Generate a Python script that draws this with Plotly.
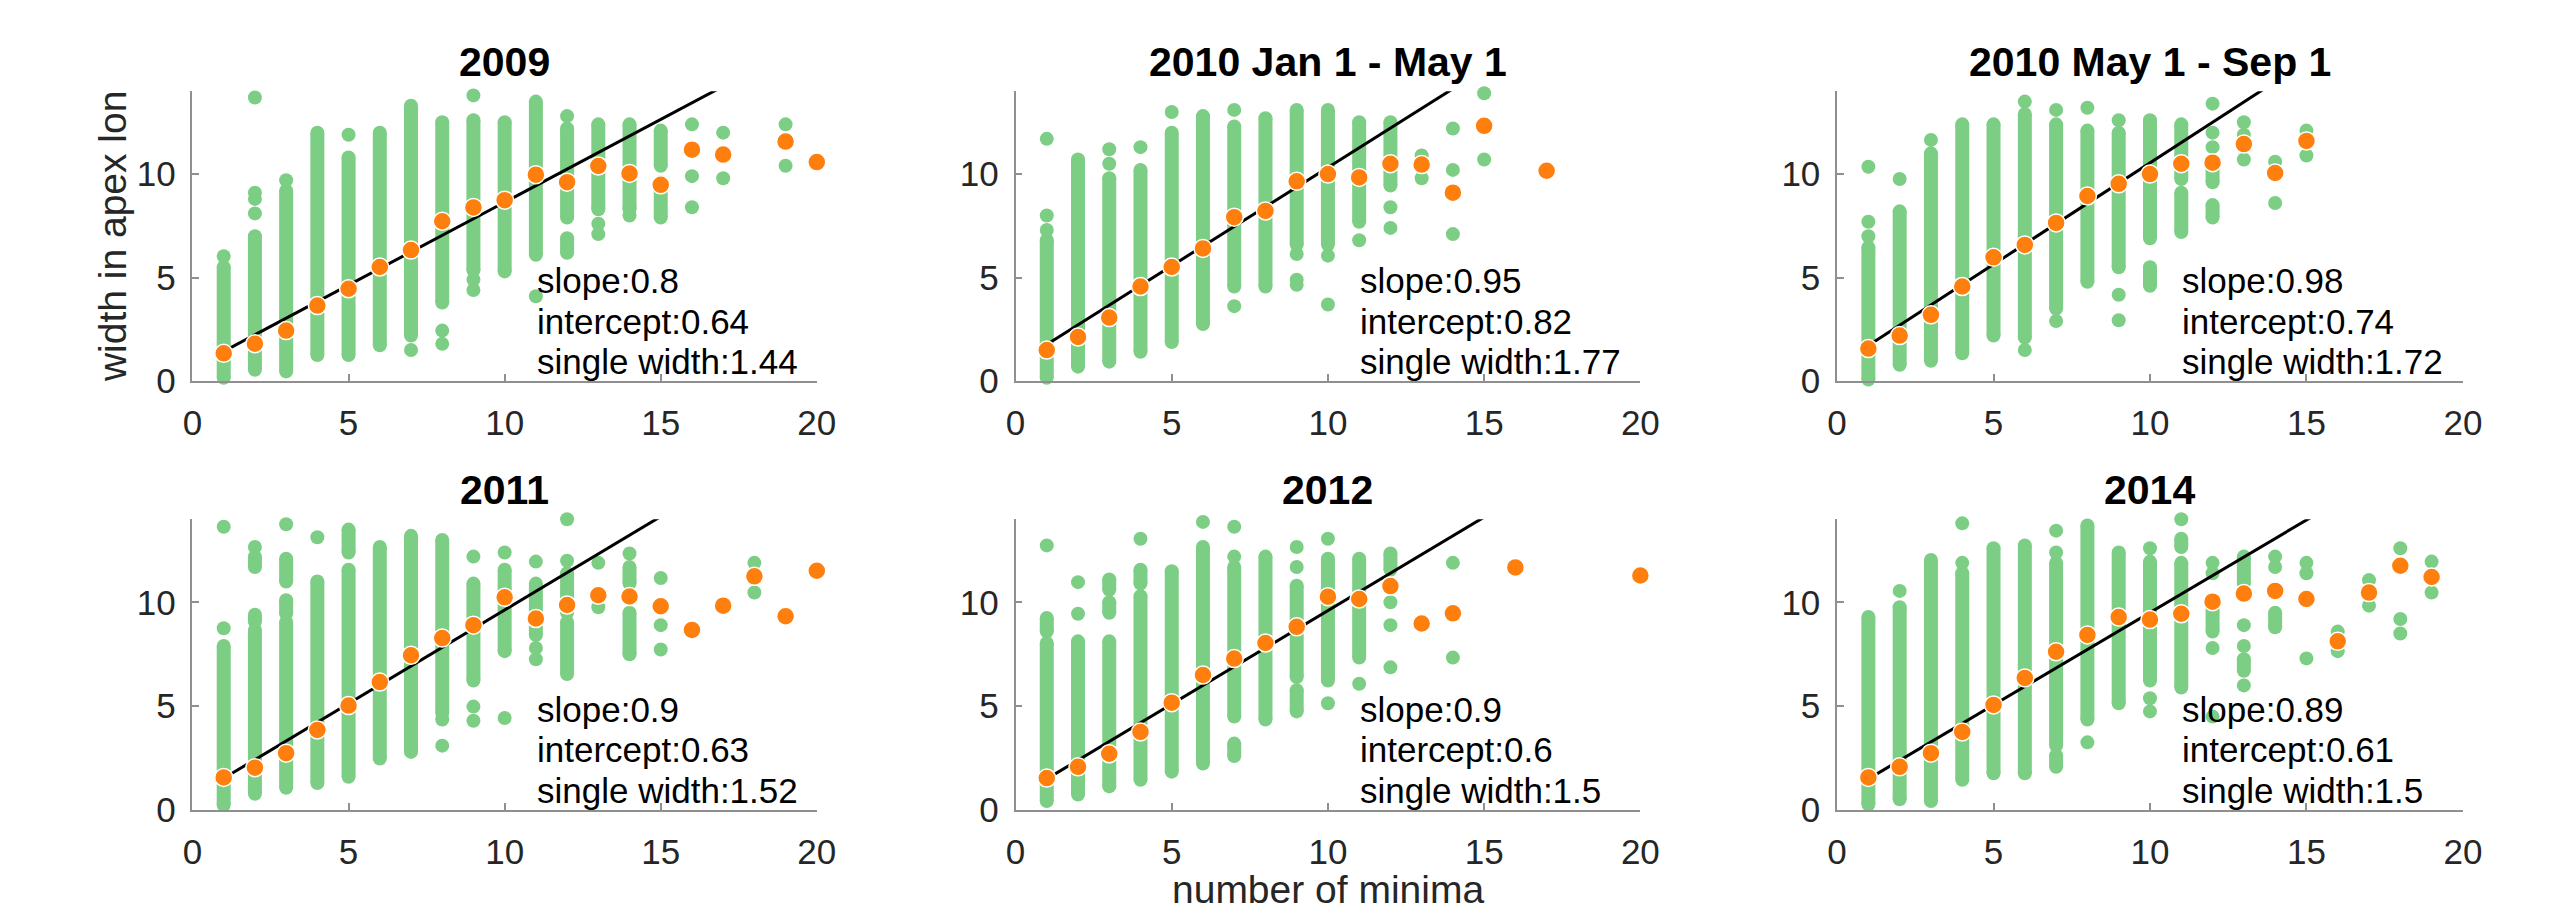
import plotly.graph_objects as go

W, H = 2551, 919

titles = ["2009", "2010 Jan 1 - May 1", "2010 May 1 - Sep 1", "2011", "2012", "2014"]
slopes = [0.8, 0.95, 0.98, 0.9, 0.9, 0.89]
intercepts = [0.64, 0.82, 0.74, 0.63, 0.6, 0.61]
single_widths = [1.44, 1.77, 1.72, 1.52, 1.5, 1.5]
x_ticks = [0, 5, 10, 15, 20]
y_ticks = [0, 5, 10]
x_title = "number of minima"
y_title = "width in apex lon"

# ---------------- Panel 1: 2009 ----------------
p1_mean_x = [1, 2, 3, 4, 5, 6, 7, 8, 9, 10, 11, 12, 13, 14, 15, 16, 17, 19, 20]
p1_mean_y = [1.34, 1.81, 2.44, 3.65, 4.46, 5.51, 6.33, 7.72, 8.39, 8.74, 9.97, 9.61, 10.39, 10.03, 9.48, 11.18, 10.94, 11.57, 10.58]
p1_rng_x = [1, 2, 3, 4, 5, 6, 7, 8, 9, 10, 11, 12, 12, 13, 14, 15, 15]
p1_rng_lo = [0.16, 0.55, 0.47, 1.26, 1.26, 1.73, 2.2, 3.8, 5.35, 5.3, 6.1, 7.9, 6.2, 8.3, 8.3, 10.4, 7.9]
p1_rng_hi = [5.5, 7.0, 9.2, 12.0, 10.8, 12.0, 13.3, 12.5, 12.6, 12.5, 13.5, 12.2, 6.9, 12.4, 12.4, 12.1, 9.6]
p1_pt_x = [1, 2, 2, 2, 2, 3, 5, 7, 8, 8, 9, 9, 9, 11, 12, 13, 13, 14, 16, 16, 16, 17, 17, 19, 19]
p1_pt_y = [6.03, 13.7, 9.1, 8.8, 8.1, 9.7, 11.9, 1.5, 2.44, 1.8, 13.8, 4.9, 4.4, 4.1, 12.8, 7.6, 7.1, 8.0, 12.4, 9.9, 8.4, 12.0, 9.8, 12.4, 10.4]

# ---------------- Panel 2: 2010 Jan 1 - May 1 ----------------
p2_mean_x = [1, 2, 3, 4, 5, 6, 7, 8, 9, 10, 11, 12, 13, 14, 15, 17]
p2_mean_y = [1.50, 2.13, 3.07, 4.57, 5.51, 6.41, 7.92, 8.22, 9.65, 10.0, 9.84, 10.5, 10.46, 9.1, 12.33, 10.16]
p2_rng_x = [1, 2, 3, 4, 5, 6, 7, 8, 9, 10, 11, 12]
p2_rng_lo = [0.16, 0.7, 0.94, 1.42, 1.89, 2.76, 4.57, 4.57, 6.6, 6.6, 7.7, 9.45]
p2_rng_hi = [6.8, 10.7, 9.8, 10.2, 12.0, 12.8, 12.3, 12.7, 13.1, 13.1, 12.5, 12.5]
p2_pt_x = [1, 1, 1, 3, 3, 4, 5, 7, 7, 9, 9, 9, 10, 10, 11, 12, 12, 13, 13, 14, 14, 14, 15, 15]
p2_pt_y = [11.7, 8.0, 7.3, 11.2, 10.5, 11.3, 13.0, 13.1, 3.62, 6.14, 4.9, 4.65, 6.06, 3.7, 6.8, 8.4, 7.4, 10.9, 9.8, 12.2, 10.2, 7.1, 13.9, 10.7]

# ---------------- Panel 3: 2010 May 1 - Sep 1 ----------------
p3_mean_x = [1, 2, 3, 4, 5, 6, 7, 8, 9, 10, 11, 12, 13, 14, 15]
p3_mean_y = [1.57, 2.2, 3.2, 4.57, 5.98, 6.58, 7.64, 8.94, 9.53, 10.0, 10.5, 10.55, 11.45, 10.05, 11.6]
p3_rng_x = [1, 2, 3, 4, 5, 6, 7, 8, 9, 10, 10, 11, 11, 12, 12]
p3_rng_lo = [0.08, 0.79, 0.98, 1.34, 2.2, 2.1, 3.5, 4.8, 5.5, 6.9, 4.6, 9.76, 7.2, 9.6, 7.9]
p3_rng_hi = [6.46, 8.2, 11.0, 12.4, 12.4, 12.9, 12.4, 12.1, 12.0, 12.6, 5.5, 12.4, 9.1, 10.6, 8.5]
p3_pt_x = [1, 1, 1, 2, 3, 6, 6, 7, 7, 8, 9, 9, 9, 12, 12, 12, 13, 13, 13, 14, 14, 15, 15]
p3_pt_y = [10.35, 7.7, 7.0, 9.76, 11.65, 13.5, 1.5, 13.1, 2.9, 13.2, 12.6, 4.17, 2.94, 13.4, 12.0, 11.3, 12.5, 11.9, 10.7, 10.6, 8.6, 12.1, 10.9]

# ---------------- Panel 4: 2011 ----------------
p4_mean_x = [1, 2, 3, 4, 5, 6, 7, 8, 9, 10, 11, 12, 13, 14, 15, 16, 17, 18, 19, 20]
p4_mean_y = [1.57, 2.04, 2.74, 3.86, 5.03, 6.16, 7.45, 8.28, 8.9, 10.24, 9.22, 9.87, 10.34, 10.28, 9.81, 8.67, 9.84, 11.25, 9.33, 11.52]
p4_rng_x = [1, 2, 2, 2, 3, 3, 3, 4, 5, 5, 6, 7, 8, 9, 10, 10, 11, 12, 12, 14, 14]
p4_rng_lo = [0.24, 0.78, 11.7, 9.06, 1.07, 11.0, 9.45, 1.3, 1.6, 12.4, 2.48, 2.8, 4.67, 6.24, 7.65, 10.6, 8.43, 9.5, 6.55, 10.9, 7.5]
p4_rng_hi = [7.9, 8.67, 12.2, 9.4, 9.06, 12.1, 10.1, 11.0, 11.57, 13.5, 12.66, 13.2, 13.0, 10.9, 10.0, 11.57, 10.9, 11.4, 9.06, 11.7, 9.5]
p4_pt_x = [1, 1, 2, 3, 4, 8, 8, 9, 9, 9, 10, 10, 11, 11, 11, 12, 12, 13, 13, 14, 15, 15, 15, 18, 18]
p4_pt_y = [13.64, 8.75, 12.66, 13.76, 13.13, 4.36, 3.1, 12.2, 4.98, 4.3, 12.4, 4.43, 11.96, 7.8, 7.26, 14.0, 12.0, 11.9, 9.76, 12.35, 11.17, 8.9, 7.73, 11.9, 10.47]

# ---------------- Panel 5: 2012 ----------------
p5_mean_x = [1, 2, 3, 4, 5, 6, 7, 8, 9, 10, 11, 12, 13, 14, 16, 20]
p5_mean_y = [1.54, 2.08, 2.71, 3.76, 5.17, 6.5, 7.29, 8.04, 8.82, 10.27, 10.16, 10.78, 8.98, 9.47, 11.68, 11.29]
p5_rng_x = [1, 1, 2, 3, 3, 3, 4, 4, 5, 6, 7, 7, 8, 9, 9, 10, 11, 12]
p5_rng_lo = [0.44, 8.6, 0.75, 1.14, 9.5, 10.6, 1.46, 10.9, 1.85, 2.24, 4.5, 2.6, 4.36, 6.4, 4.75, 6.24, 7.34, 11.57]
p5_rng_hi = [8.04, 9.25, 8.12, 8.12, 10.0, 11.1, 10.3, 11.57, 11.5, 12.66, 11.7, 3.2, 12.2, 10.8, 5.77, 12.1, 12.1, 12.35]
p5_pt_x = [1, 2, 2, 4, 6, 7, 7, 9, 9, 10, 10, 11, 12, 12, 12, 14, 14]
p5_pt_y = [12.74, 10.97, 9.45, 13.06, 13.87, 13.64, 12.2, 12.66, 11.7, 13.06, 5.14, 6.08, 10.0, 8.9, 6.87, 11.9, 7.34]

# ---------------- Panel 6: 2014 ----------------
p6_mean_x = [1, 2, 3, 4, 5, 6, 7, 8, 9, 10, 11, 12, 13, 14, 15, 16, 17, 18, 19]
p6_mean_y = [1.57, 2.08, 2.74, 3.76, 5.06, 6.36, 7.62, 8.43, 9.29, 9.17, 9.45, 10.03, 10.42, 10.55, 10.16, 8.12, 10.47, 11.76, 11.22]
p6_rng_x = [1, 2, 3, 4, 5, 6, 7, 7, 8, 9, 10, 11, 11, 12, 13, 13, 14]
p6_rng_lo = [0.28, 0.52, 0.44, 1.46, 1.77, 1.77, 3.1, 2.08, 4.36, 5.14, 6.24, 5.9, 12.66, 8.59, 10.9, 6.7, 8.8]
p6_rng_hi = [9.29, 9.76, 12.04, 11.4, 12.6, 12.74, 11.9, 2.63, 13.7, 12.4, 11.96, 11.9, 13.06, 10.0, 12.2, 7.26, 9.5]
p6_pt_x = [2, 4, 4, 7, 7, 8, 10, 10, 10, 11, 12, 12, 12, 12, 13, 13, 13, 14, 14, 15, 15, 15, 16, 16, 17, 17, 18, 18, 18, 19, 19]
p6_pt_y = [10.55, 13.8, 11.9, 13.45, 12.4, 3.26, 12.6, 5.38, 4.75, 14.0, 11.9, 11.4, 7.8, 4.5, 8.9, 7.9, 6.0, 12.2, 11.7, 11.9, 11.4, 7.3, 8.59, 7.65, 11.07, 9.84, 12.6, 9.2, 8.5, 11.96, 10.47]

panels = [
    (p1_mean_x, p1_mean_y, p1_rng_x, p1_rng_lo, p1_rng_hi, p1_pt_x, p1_pt_y),
    (p2_mean_x, p2_mean_y, p2_rng_x, p2_rng_lo, p2_rng_hi, p2_pt_x, p2_pt_y),
    (p3_mean_x, p3_mean_y, p3_rng_x, p3_rng_lo, p3_rng_hi, p3_pt_x, p3_pt_y),
    (p4_mean_x, p4_mean_y, p4_rng_x, p4_rng_lo, p4_rng_hi, p4_pt_x, p4_pt_y),
    (p5_mean_x, p5_mean_y, p5_rng_x, p5_rng_lo, p5_rng_hi, p5_pt_x, p5_pt_y),
    (p6_mean_x, p6_mean_y, p6_rng_x, p6_rng_lo, p6_rng_hi, p6_pt_x, p6_pt_y),
]

# ---------------- styling / layout ----------------
GREEN = "#7dce85"
ORANGE = "#ff7f0e"
AXC = "#8f8f8f"
TXT = "#262626"
FONT = "Liberation Sans, Arial, Helvetica, sans-serif"
GREEN_D = 14
TICK_FS = 35
STAT_FS = 35
TITLE_FS = 41
LABEL_FS = 39

col_px = [(176.5, 808), (1009, 1641), (1840, 2473)]
row_px = [(85, 381), (522, 819)]
stat_y = [4.86, 2.9, 0.94]

fig = go.Figure()
annotations = []
layout_axes = {}

for i, (mx, my, rx, rlo, rhi, px, py) in enumerate(panels):
    r, c = divmod(i, 3)
    n = i + 1
    xa = "x" if n == 1 else f"x{n}"
    ya = "y" if n == 1 else f"y{n}"
    x0, x1 = col_px[c]
    y0, y1 = row_px[r]

    # dense columns of overlapping dots
    lx, ly = [], []
    for xv, lo, hi in zip(rx, rlo, rhi):
        lx += [xv, xv, None]
        ly += [lo, hi, None]
    fig.add_trace(go.Scatter(x=lx, y=ly, mode="lines+markers", xaxis=xa, yaxis=ya,
                             line=dict(color=GREEN, width=GREEN_D),
                             marker=dict(color=GREEN, size=GREEN_D),
                             cliponaxis=False, showlegend=False, hoverinfo="skip"))
    # isolated dots
    fig.add_trace(go.Scatter(x=px, y=py, mode="markers", xaxis=xa, yaxis=ya,
                             marker=dict(color=GREEN, size=GREEN_D),
                             cliponaxis=False, showlegend=False))
    # fit line
    fx = [1, 20]
    fy = [slopes[i] * v + intercepts[i] for v in fx]
    fig.add_trace(go.Scatter(x=fx, y=fy, mode="lines", xaxis=xa, yaxis=ya,
                             line=dict(color="black", width=3),
                             cliponaxis=True, showlegend=False))
    # means
    fig.add_trace(go.Scatter(x=mx, y=my, mode="markers", xaxis=xa, yaxis=ya,
                             marker=dict(color=ORANGE, size=18, line=dict(color="white", width=1.5)),
                             cliponaxis=False, showlegend=False))

    axcommon = dict(showgrid=False, zeroline=False, showline=True, linecolor=AXC, linewidth=1.5,
                    ticks="inside", ticklen=7, tickwidth=1.5, tickcolor=AXC,
                    tickfont=dict(family=FONT, size=TICK_FS, color=TXT), mirror=False)
    layout_axes["xaxis" if n == 1 else f"xaxis{n}"] = dict(
        domain=[x0 / W, x1 / W], range=[0, 20], tickvals=x_ticks, anchor=ya,
        ticklabelstandoff=10, **axcommon)
    layout_axes["yaxis" if n == 1 else f"yaxis{n}"] = dict(
        domain=[1 - y1 / H, 1 - y0 / H], range=[0, 14], tickvals=y_ticks, anchor=xa,
        ticklabelstandoff=8, **axcommon)

    # title
    annotations.append(dict(x=(x0 + x1) / 2 / W, y=1 - (y0 - 30) / H, xref="paper", yref="paper",
                            text=f"<b>{titles[i]}</b>", showarrow=False, xanchor="center", yanchor="middle",
                            font=dict(family=FONT, size=TITLE_FS, color="black")))
    # stats text (three lines)
    lines = [f"slope:{slopes[i]}", f"intercept:{intercepts[i]}", f"single width:{single_widths[i]}"]
    for t, yy in zip(lines, stat_y):
        annotations.append(dict(x=11, y=yy, xref=xa, yref=ya, showarrow=False,
                                xanchor="left", yanchor="middle", align="left", text=t,
                                borderpad=0,
                                font=dict(family=FONT, size=STAT_FS, color="black")))

annotations.append(dict(x=95 / W, y=1 - 233 / H, xref="paper", yref="paper", text=y_title,
                        textangle=-90, showarrow=False, xanchor="center", yanchor="middle",
                        font=dict(family=FONT, size=LABEL_FS, color=TXT)))
annotations.append(dict(x=1325 / W, y=1 - 900 / H, xref="paper", yref="paper", text=x_title,
                        showarrow=False, xanchor="center", yanchor="middle",
                        font=dict(family=FONT, size=LABEL_FS, color=TXT)))

fig.update_layout(width=W, height=H, margin=dict(l=0, r=0, t=0, b=0),
                  paper_bgcolor="white", plot_bgcolor="white",
                  annotations=annotations, **layout_axes)

fig.write_html("out.html")
